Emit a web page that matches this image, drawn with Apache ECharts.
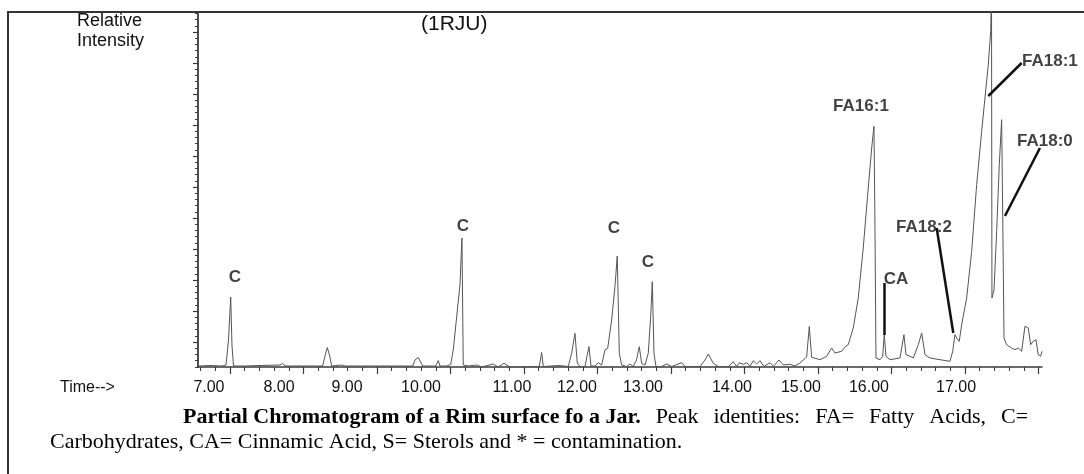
<!DOCTYPE html>
<html>
<head>
<meta charset="utf-8">
<title>Partial Chromatogram (1RJU)</title>
<script src="https://cdn.jsdelivr.net/npm/echarts@6.0.0/dist/echarts.min.js"></script>
<style>
html, body { margin: 0; padding: 0; background: #fff; }
.frame {
  position: absolute; left: 7px; top: 11px; width: 1084px; height: 470px;
  border-left: 2px solid #333; border-top: 2px solid #333;
}
#main { position: absolute; left: 0; top: 0; width: 1084px; height: 474px; }
</style>
</head>
<body>
<div class="frame"></div>
<div id="main"></div>
<script>
// retention time (min) and relative abundance
var times = [
  6.578, 6.728, 6.891, 6.946, 6.980, 7.010, 7.027, 7.048, 7.204, 7.408,
  7.680, 7.717, 7.748, 8.020, 8.261, 8.293, 8.324, 8.354, 8.384, 8.520,
  8.565, 9.041, 9.313, 9.486, 9.517, 9.562, 9.585, 9.622, 9.799, 9.834,
  9.857, 9.948, 10.003, 10.038, 10.084, 10.129, 10.156, 10.174, 10.242, 10.357,
  10.425, 10.582, 10.650, 10.728, 10.810, 10.946, 11.082, 11.208, 11.241, 11.263,
  11.480, 11.603, 11.649, 11.694, 11.725, 11.762, 11.830, 11.884, 11.912, 11.966,
  12.011, 12.057, 12.102, 12.139, 12.193, 12.238, 12.269, 12.297, 12.329, 12.397,
  12.442, 12.487, 12.531, 12.569, 12.601, 12.646, 12.691, 12.724, 12.746, 12.769,
  12.796, 12.873, 12.942, 13.010, 13.146, 13.190, 13.395, 13.463, 13.508, 13.576,
  13.644, 13.780, 13.848, 13.894, 13.929, 13.984, 14.030, 14.075, 14.120, 14.166,
  14.211, 14.265, 14.347, 14.392, 14.469, 14.528, 14.619, 14.687, 14.755, 14.846,
  14.882, 14.914, 15.027, 15.118, 15.186, 15.231, 15.322, 15.377, 15.412, 15.480,
  15.548, 15.616, 15.684, 15.731, 15.762, 15.776, 15.789, 15.844, 15.880, 15.902,
  15.925, 15.980, 16.116, 16.170, 16.197, 16.252, 16.297, 16.365, 16.411, 16.456,
  16.524, 16.660, 16.796, 16.833, 16.864, 16.887, 16.922, 16.955, 17.023, 17.091,
  17.159, 17.227, 17.272, 17.317, 17.350, 17.361, 17.367, 17.395, 17.431, 17.467,
  17.499, 17.521, 17.531, 17.567, 17.635, 17.680, 17.725, 17.771, 17.816, 17.861,
  17.894, 17.929, 17.966, 17.997, 18.030, 18.048
];
var abundance = [
  1, 1.5, 1, 2, 27, 70, 22, 1, 1, 1.5,
  2, 3.5, 1, 1, 1, 11, 19.5, 12, 1, 2,
  1, 1, 1, 1, 7, 9.5, 8.5, 1, 1, 6.5,
  1, 1, 2.5, 17, 50, 82, 129, 2, 1, 2,
  0, 3, 0, 3.7, 0, 0, 0.5, 0.5, 14.5, 0.5,
  1.5, 0.5, 14, 33.7, 4, 0.5, 0.5, 20.5, 1, 1,
  4.3, 2, 17, 18.7, 47, 80.3, 111, 13.7, 2, 0.5,
  3, 0.5, 7, 20.3, 3.7, 2, 13.7, 50.3, 85.3, 13.7,
  0.5, 0.5, 3, 0.5, 4.3, 0.5, 0.5, 7, 13, 3.7,
  0.5, 0.5, 5.3, 0.5, 4.3, 2.7, 4.3, 0.5, 6.3, 3,
  6.3, 0.5, 4.3, 0.5, 7, 2, 2.7, 1, 4, 10,
  40.5, 9.7, 7.3, 10.7, 19, 14, 15.7, 20.7, 22.3, 39,
  69, 119, 179, 219, 240.7, 136, 9, 7.3, 10.7, 32.3,
  10.7, 7.3, 9, 32.3, 12.3, 10.7, 9, 22.3, 34, 12.3,
  9, 7.3, 5.7, 15.7, 32.3, 29, 25.7, 42.3, 69, 115.7,
  182.3, 235.7, 269, 302.3, 335.7, 380, 69, 77, 135.7, 202.3,
  247.3, 102.3, 29, 22.3, 19, 17.3, 19, 15.7, 40.7, 39,
  22.3, 25.7, 27.3, 12.3, 10.7, 15.7
];

// printed time labels and where they sit under the axis
var tickLabels = ['7.00', '8.00', '9.00', '10.00', '11.00', '12.00', '13.00', '14.00', '15.00', '16.00', '17.00'];
var labelTimes = [6.714, 7.667, 8.592, 9.599, 10.837, 11.721, 12.619, 13.830, 14.769, 15.694, 16.878];
var majorTimes = [7, 8, 9, 10, 11, 12, 13, 14, 15, 16, 17, 18];

// peak identities
var peakNames = ['C', 'C', 'C', 'C', 'FA16:1', 'CA', 'FA18:2', 'FA18:1', 'FA18:0'];
var peakNameTimes = [7.068, 10.170, 12.224, 12.687, 15.585, 16.061, 16.442, 18.156, 18.088];
var peakNameLevels = [90, 141, 139, 105, 261, 88, 140, 306, 226];

// leader lines: label end -> peak end
var pointerFrom = [[15.902, 84], [16.615, 139], [17.771, 304], [18.020, 219]];
var pointerTo = [[15.902, 32], [16.841, 34], [17.317, 271], [17.544, 151]];

var captionBold = 'Partial Chromatogram of a Rim surface fo a Jar.';
var captionRest = 'Peak identities: FA= Fatty Acids, C=';
var captionLine2 = 'Carbohydrates, CA= Cinnamic Acid, S= Sterols and * = contamination.';

var tMin = 6.565, tMax = 18.048;
var yMax = 355;

var minorTimes = [];
for (var t = 6.6; t <= tMax; t += 0.2) minorTimes.push(+t.toFixed(1));
var yMajor = [];
for (var v = 25; v <= yMax; v += 31) yMajor.push(v);
var yMinor = [];
for (var w = 0.2; w <= yMax; w += 6.2) yMinor.push(+w.toFixed(1));

var trace = times.map(function (t, i) { return [t, abundance[i]]; });
var names = peakNames.map(function (n, i) { return [peakNameTimes[i], peakNameLevels[i], n]; });
var pointers = pointerFrom.map(function (p, i) {
  return [{ coord: p }, { coord: pointerTo[i] }];
});

// first caption line is justified in the source, so its plain words are spread out
var line1 = '{b|' + captionBold + '}' + captionRest.split(' ').map(function (wd) {
  return '{g| }{r|' + wd + '}';
}).join('');

var sans = 'Liberation Sans';
var serif = 'Liberation Serif';
var axisColor = '#3a3a3a';

var myChart = echarts.init(document.getElementById('main'));
var option = {
  animation: false,
  backgroundColor: 'transparent',
  title: [
    {
      text: 'Relative\nIntensity', left: 77, top: 11, padding: 0,
      textStyle: { fontFamily: sans, fontSize: 18, fontWeight: 'normal', color: '#111', lineHeight: 20 }
    },
    {
      text: '(1RJU)', left: 421, top: 14, padding: 0,
      textStyle: { fontFamily: sans, fontSize: 21, fontWeight: 'normal', color: '#111' }
    },
    {
      text: 'Time-->', left: 60, top: 380, padding: 0,
      textStyle: { fontFamily: sans, fontSize: 16, fontWeight: 'normal', color: '#111' }
    },
    {
      text: line1, left: 183, top: 406, padding: 0,
      textStyle: {
        rich: {
          b: { fontFamily: serif, fontWeight: 'bold', fontSize: 22, color: '#000' },
          r: { fontFamily: serif, fontWeight: 'normal', fontSize: 22, color: '#000' },
          g: { fontFamily: serif, fontSize: 22, width: 15 }
        }
      }
    },
    {
      text: captionLine2, left: 50, top: 431, padding: 0,
      textStyle: { fontFamily: serif, fontSize: 22, fontWeight: 'normal', color: '#000' }
    }
  ],
  grid: { left: 198, top: 12, right: 42, bottom: 107, outerBoundsMode: 'none' },
  xAxis: [
    {
      type: 'value', min: tMin, max: tMax, position: 'bottom',
      axisLine: { show: true, lineStyle: { color: axisColor, width: 1.5 } },
      axisTick: { show: true, customValues: majorTimes, length: 7, lineStyle: { color: axisColor, width: 1.2 } },
      axisLabel: {
        show: true, customValues: labelTimes, margin: 13,
        fontFamily: sans, fontSize: 16, color: '#111',
        formatter: function (val) {
          var best = 0;
          for (var i = 1; i < labelTimes.length; i++) {
            if (Math.abs(labelTimes[i] - val) < Math.abs(labelTimes[best] - val)) best = i;
          }
          return tickLabels[best];
        }
      },
      splitLine: { show: false }
    },
    {
      type: 'value', min: tMin, max: tMax, position: 'bottom',
      axisLine: { show: false },
      axisTick: { show: true, customValues: minorTimes, length: 4, lineStyle: { color: axisColor, width: 1 } },
      axisLabel: { show: false },
      splitLine: { show: false }
    }
  ],
  yAxis: [
    {
      type: 'value', min: 0, max: yMax, position: 'left',
      axisLine: { show: true, lineStyle: { color: axisColor, width: 1.8 } },
      axisTick: { show: true, customValues: yMajor, length: 5, lineStyle: { color: axisColor, width: 1.2 } },
      axisLabel: { show: false },
      splitLine: { show: false }
    },
    {
      type: 'value', min: 0, max: yMax, position: 'left',
      axisLine: { show: false },
      axisTick: { show: true, customValues: yMinor, length: 3, lineStyle: { color: axisColor, width: 1 } },
      axisLabel: { show: false },
      splitLine: { show: false }
    }
  ],
  series: [
    {
      name: 'TIC',
      type: 'line',
      xAxisIndex: 0,
      yAxisIndex: 0,
      data: trace,
      showSymbol: false,
      clip: true,
      lineStyle: { color: '#555', width: 1 },
      silent: true
    },
    {
      name: 'Peaks',
      type: 'scatter',
      xAxisIndex: 0,
      yAxisIndex: 0,
      data: names,
      symbolSize: 0,
      clip: false,
      silent: true,
      label: {
        show: true, position: 'inside',
        formatter: function (p) { return p.value[2]; },
        fontFamily: sans, fontSize: 17, fontWeight: 'bold', color: '#111'
      },
      markLine: {
        silent: true,
        symbol: ['none', 'none'],
        label: { show: false },
        lineStyle: { color: '#111', width: 2.5, type: 'solid' },
        data: pointers
      }
    }
  ]
};
myChart.setOption(option);
</script>
</body>
</html>
